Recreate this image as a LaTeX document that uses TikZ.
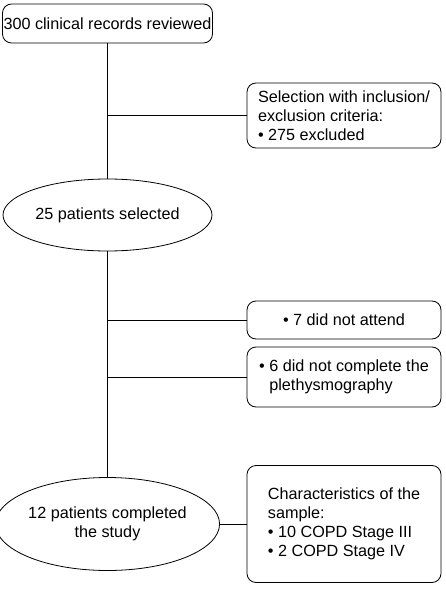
\documentclass[tikz,border=0pt]{standalone}
\usepackage{fontspec}
\setmainfont{Liberation Sans}
\usetikzlibrary{shapes.geometric}
\begin{document}
\begin{tikzpicture}[x=1pt,y=-1pt,
  every node/.style={font=\fontsize{16.2}{19.2}\selectfont, inner sep=0pt},
  rbox/.style={draw, rounded corners=9pt, line width=0.8pt, minimum width=194pt, align=left},
  ell/.style={draw, ellipse, line width=0.8pt, minimum width=209pt, align=center},
  conn/.style={line width=0.8pt}]
\useasboundingbox (0,0) rectangle (446,596);
\node[draw, rounded corners=9pt, line width=0.8pt, minimum width=210pt, minimum height=39pt] (n1) at (107.5,23.5) {300 clinical records reviewed};
\node[rbox, minimum height=65pt] (b2) at (344,115.5) {Selection with inclusion/\\exclusion criteria:\\• 275 excluded};
\node[ell, minimum height=72pt] (e1) at (107.5,215) {25 patients selected};
\node[rbox, minimum height=38pt] (b3) at (344,320) {• 7 did not attend};
\node[rbox, minimum height=60pt] (b4) at (344,377) {• 6 did not complete the\\\hphantom{• }plethysmography};
\node[ell, minimum height=93pt] (e2) at (107.5,524) {12 patients completed\\the study};
\node[rbox, minimum height=117pt] (b5) at (344,524) {Characteristics of the\\sample:\\• 10 COPD Stage III\\• 2 COPD Stage IV};
\draw[conn] (n1.south) -- (e1.north);
\draw[conn] (e1.south) -- (e2.north);
\draw[conn] (b2.west -| n1.south) -- (b2.west);
\draw[conn] (b3.west -| n1.south) -- (b3.west);
\draw[conn] (b4.west -| n1.south) -- (b4.west);
\draw[conn] (e2.east) -- (b5.west);
\end{tikzpicture}
\end{document}
